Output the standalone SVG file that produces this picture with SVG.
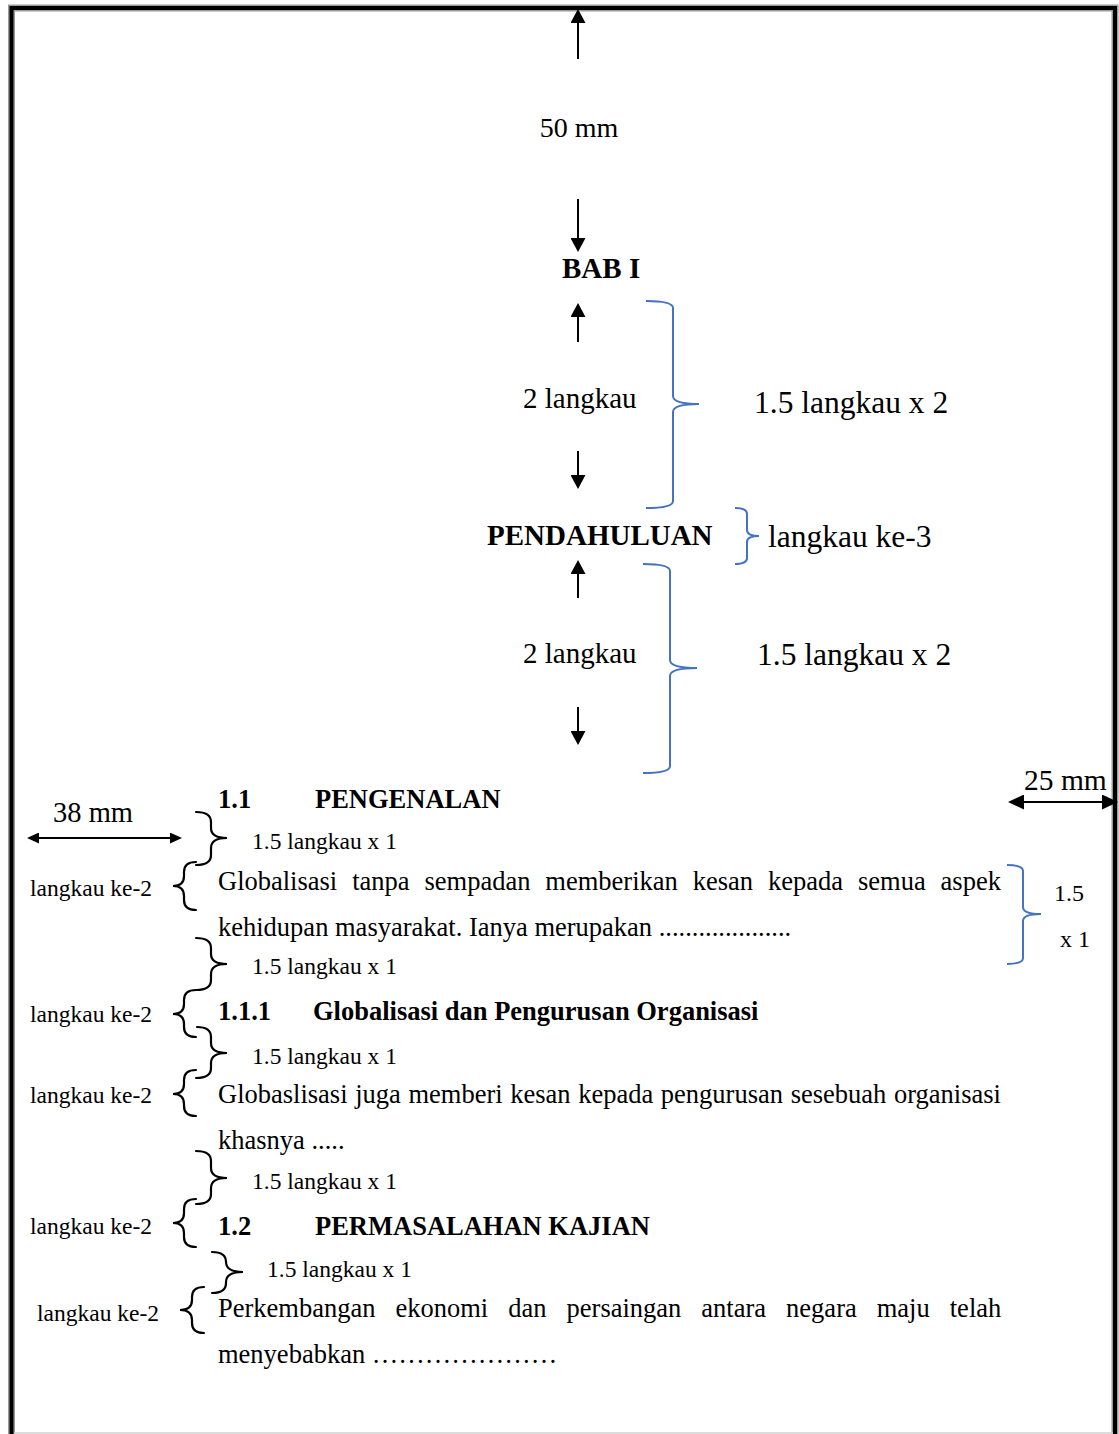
<svg xmlns="http://www.w3.org/2000/svg" width="1119" height="1434" viewBox="0 0 1119 1434">
<style>
.t{font-family:"Liberation Serif","Times New Roman",serif;fill:#000}
.b{font-weight:bold}
.brk{fill:none;stroke:#000;stroke-width:2.2;stroke-linecap:round}
.bb{fill:none;stroke:#4472C4;stroke-width:2}
.arr{stroke:#000;stroke-width:2;fill:none}
.body{font-size:26.5px}
.sm{font-size:23.5px}
</style>
<defs>
<marker id="ah" viewBox="0 0 14 15" markerWidth="14" markerHeight="15" refX="6" refY="7.5" orient="auto" markerUnits="userSpaceOnUse"><path d="M0,0 L14,7.5 L0,15 z" fill="#000"/></marker>
<marker id="ahs" viewBox="0 0 12 11" markerWidth="12" markerHeight="11" refX="6" refY="5.5" orient="auto-start-reverse" markerUnits="userSpaceOnUse"><path d="M0,0 L12,5.5 L0,11 z" fill="#000"/></marker>
<marker id="ahl" viewBox="0 0 16 15" markerWidth="16" markerHeight="15" refX="8" refY="7.5" orient="auto-start-reverse" markerUnits="userSpaceOnUse"><path d="M0,0 L16,7.5 L0,15 z" fill="#000"/></marker>
</defs>
<rect width="1119" height="1434" fill="#fff"/>

<g id="page-border">
<path d="M11.5,1440 V8 H1115 V1440" fill="none" stroke="#9a9a9a" stroke-width="7"/>
<path d="M11.5,1440 V8 H1115 V1440" fill="none" stroke="#000" stroke-width="4"/>
<line x1="14" y1="1433" x2="1113" y2="1433" stroke="#d0d0d0" stroke-width="1.5"/>
</g>

<g id="connectors">
<line class="arr" x1="578" y1="59" x2="578" y2="17" marker-end="url(#ah)"/>
<line class="arr" x1="578" y1="199" x2="578" y2="244" marker-end="url(#ah)"/>
<line class="arr" x1="578" y1="342" x2="578" y2="311" marker-end="url(#ah)"/>
<line class="arr" x1="578" y1="451" x2="578" y2="481" marker-end="url(#ah)"/>
<line class="arr" x1="578" y1="598" x2="578" y2="568" marker-end="url(#ah)"/>
<line class="arr" x1="578" y1="707" x2="578" y2="737" marker-end="url(#ah)"/>
<line class="arr" x1="33" y1="838" x2="176" y2="838" marker-start="url(#ahs)" marker-end="url(#ahs)"/>
<line class="arr" x1="1016" y1="802" x2="1110" y2="802" marker-start="url(#ahl)" marker-end="url(#ahl)"/>
</g>

<g id="margin-top">
<text class="t" x="579" y="137" font-size="28" text-anchor="middle">50 mm</text>
</g>
<g id="bab">
<text class="t b" x="562" y="278" font-size="29">BAB I</text>
</g>
<g id="gap1">
<text class="t" x="523" y="408" font-size="29">2 langkau</text>
<path class="bb" d="M646,301 Q673,301 673,308 L673,396 Q673,404 699,404 Q673,404 673,412 L673,501 Q673,508 646,508"/>
<text class="t" x="754" y="413" font-size="31.5">1.5 langkau x 2</text>
</g>
<g id="pendahuluan">
<text class="t b" x="487" y="545" font-size="29">PENDAHULUAN</text>
<path class="bb" d="M735,508 Q747,508 747,514 L747,530 Q747,536 759,536 Q747,536 747,542 L747,558 Q747,564 735,564"/>
<text class="t" x="768" y="547" font-size="31.5">langkau ke-3</text>
</g>
<g id="gap2">
<text class="t" x="523" y="663" font-size="29">2 langkau</text>
<path class="bb" d="M643,564 Q670,564 670,571 L670,660 Q670,668 697,668 Q670,668 670,676 L670,766 Q670,773 643,773"/>
<text class="t" x="757" y="665" font-size="31.5">1.5 langkau x 2</text>
</g>
<g id="margin-right">
<text class="t" x="1024" y="790" font-size="29.5">25 mm</text>
</g>
<g id="margin-left">
<text class="t" x="53" y="822" font-size="28.5">38 mm</text>
</g>

<g id="sec-1-1">
<text class="t b body" x="218" y="808">1.1<tspan x="315">PENGENALAN</tspan></text>
<path class="brk" d="M196,812 Q211,812 211,822 L211,828 Q211,838 227,838 Q211,838 211,848 L211,855 Q211,865 196,865"/>
<text class="t sm" x="252" y="849">1.5 langkau x 1</text>
</g>
<g id="para-1">
<path class="brk" d="M196,862 Q184,862 184,872 L184,876 Q184,886 173,886 Q184,886 184,896 L184,900 Q184,910 196,910"/>
<text class="t sm" x="30" y="896">langkau ke-2</text>
<text class="t body" x="218" y="890" word-spacing="8.3">Globalisasi tanpa sempadan memberikan kesan kepada semua aspek</text>
<text class="t body" x="218" y="936">kehidupan masyarakat. Ianya merupakan ....................</text>
<path class="bb" d="M1007,865 Q1023,865 1023,871 L1023,907 Q1023,914 1041,914 Q1023,914 1023,921 L1023,958 Q1023,964 1007,964"/>
<text class="t" x="1054" y="901" font-size="24">1.5</text>
<text class="t" x="1060" y="947" font-size="24">x 1</text>
</g>
<g id="gap-3">
<path class="brk" d="M196,938 Q211,938 211,948 L211,954 Q211,964 227,964 Q211,964 211,974 L211,980 Q211,990 196,990"/>
<text class="t sm" x="252" y="974">1.5 langkau x 1</text>
</g>
<g id="sec-1-1-1">
<path class="brk" d="M196,990 Q184,990 184,1000 L184,1004 Q184,1014 173,1014 Q184,1014 184,1024 L184,1027 Q184,1037 196,1037"/>
<text class="t sm" x="30" y="1022">langkau ke-2</text>
<text class="t b body" x="218" y="1020">1.1.1<tspan x="313">Globalisasi dan Pengurusan Organisasi</tspan></text>
<path class="brk" d="M197,1027 Q211,1027 211,1037 L211,1043 Q211,1053 227,1053 Q211,1053 211,1063 L211,1068 Q211,1078 196,1078"/>
<text class="t sm" x="252" y="1064">1.5 langkau x 1</text>
</g>
<g id="para-2">
<path class="brk" d="M196,1070 Q184,1070 184,1080 L184,1084 Q184,1094 173,1094 Q184,1094 184,1104 L184,1106 Q184,1116 196,1116"/>
<text class="t sm" x="30" y="1103">langkau ke-2</text>
<text class="t body" x="218" y="1103" word-spacing="1">Globaslisasi juga memberi kesan kepada pengurusan sesebuah organisasi</text>
<text class="t body" x="218" y="1149">khasnya .....</text>
<path class="brk" d="M196,1151 Q211,1151 211,1161 L211,1168 Q211,1178 227,1178 Q211,1178 211,1188 L211,1194 Q211,1204 196,1204"/>
<text class="t sm" x="252" y="1189">1.5 langkau x 1</text>
</g>
<g id="sec-1-2">
<path class="brk" d="M196,1199 Q184,1199 184,1209 L184,1213 Q184,1223 173,1223 Q184,1223 184,1233 L184,1237 Q184,1247 196,1247"/>
<text class="t sm" x="30" y="1234">langkau ke-2</text>
<text class="t b body" x="218" y="1235">1.2<tspan x="315">PERMASALAHAN KAJIAN</tspan></text>
<path class="brk" d="M212,1252 Q226,1252 226,1262 Q226,1272 243,1272 Q226,1272 226,1282 L226,1283 Q226,1293 212,1293"/>
<text class="t sm" x="267" y="1277">1.5 langkau x 1</text>
</g>
<g id="para-3">
<path class="brk" d="M204,1287 Q192,1287 192,1297 L192,1300 Q192,1310 180,1310 Q192,1310 192,1320 L192,1323 Q192,1333 204,1333"/>
<text class="t sm" x="37" y="1321">langkau ke-2</text>
<text class="t body" x="218" y="1317" word-spacing="13.4">Perkembangan ekonomi dan persaingan antara negara maju telah</text>
<text class="t body" x="218" y="1363">menyebabkan …………………</text>
</g>
</svg>
